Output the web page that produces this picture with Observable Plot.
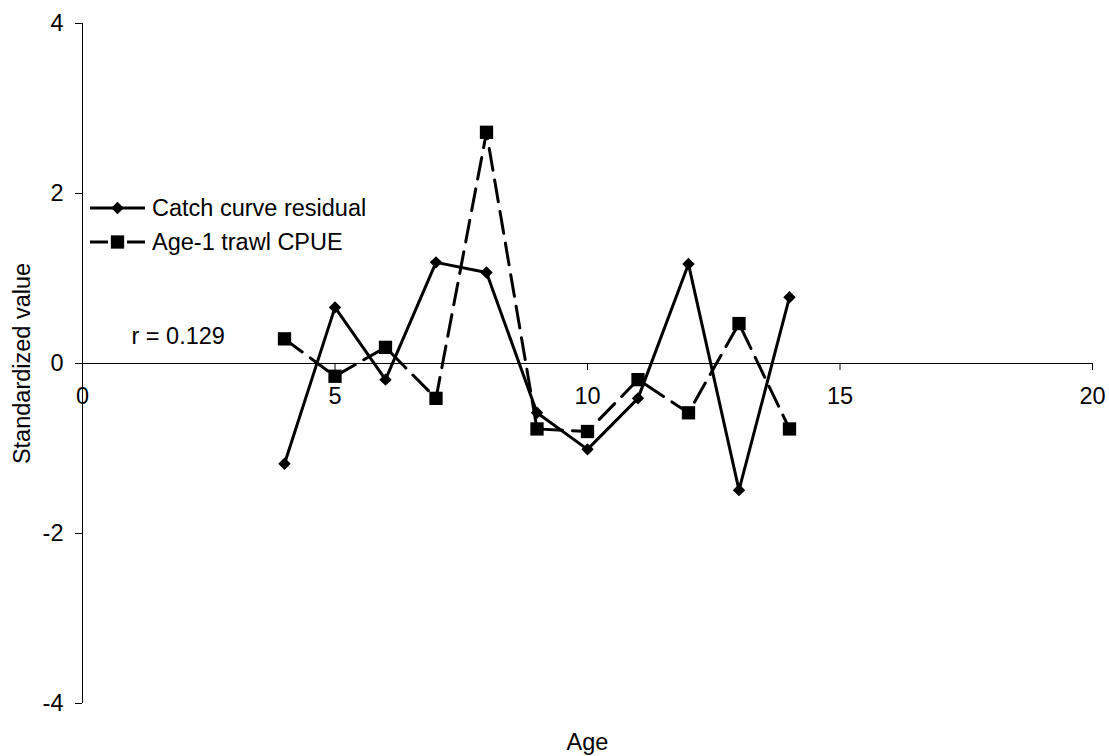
<!DOCTYPE html>
<html><head><meta charset="utf-8">
<script src="https://cdn.jsdelivr.net/npm/d3@7"></script>
<script src="https://cdn.jsdelivr.net/npm/@observablehq/plot@0.6"></script>
<style>
body{margin:0;background:#fff;}
#chart{position:relative;width:1109px;height:756px;font-family:"Liberation Sans",Arial,sans-serif;}
#chart svg.legend{position:absolute;left:0;top:0;pointer-events:none;}
</style></head><body><div id="chart"></div>
<script>
const ages = [4, 5, 6, 7, 8, 9, 10, 11, 12, 13, 14];
const catchResidual = [-1.18, 0.66, -0.19, 1.19, 1.07, -0.58, -1.01, -0.41, 1.17, -1.49, 0.78];
const trawlCPUE = [0.29, -0.15, 0.19, -0.41, 2.72, -0.77, -0.80, -0.19, -0.58, 0.47, -0.77];
const xTicks = [0, 5, 10, 15, 20];
const yTicks = [-4, -2, 0, 2, 4];
const seriesNames = ["Catch curve residual", "Age-1 trawl CPUE"];
const annotations = [{x: 0.97, y: 0.32, text: "r = 0.129"}];
const xLabel = "Age";
const yLabel = "Standardized value";

const FONT = '"Liberation Sans", Arial, sans-serif';
const FS = 23.5;
const catchData = ages.map((a, i) => ({age: a, value: catchResidual[i]}));
const trawlData = ages.map((a, i) => ({age: a, value: trawlCPUE[i]}));

const diamondR = 5.6, squareR = 7.5, dash = "22,10";

const plot = Plot.plot({
  width: 1109, height: 756,
  marginLeft: 82, marginRight: 17, marginTop: 23, marginBottom: 53,
  x: {domain: [0, 20], axis: null},
  y: {domain: [-4, 4], axis: null},
  style: {fontFamily: FONT, fontSize: FS + "px", color: "#000", background: "#fff", overflow: "visible"},
  marks: [
    Plot.ruleY([0], {stroke: "#000", strokeWidth: 1}),
    Plot.ruleX([0], {stroke: "#000", strokeWidth: 1}),
    Plot.ruleX(xTicks, {x: d => d, y1: 0, y2: 0, insetBottom: -7, stroke: "#000"}),
    Plot.ruleY(yTicks, {y: d => d, x1: 0, x2: 0, insetLeft: -7, stroke: "#000"}),
    Plot.text(xTicks, {x: d => d, y: 0, dy: 33, text: d => String(d), fill: "#000"}),
    Plot.text(yTicks, {x: 0, y: d => d, dx: -19, textAnchor: "end", text: d => String(d), fill: "#000"}),
    Plot.line(trawlData, {x: "age", y: "value", stroke: "#000", strokeWidth: 3, strokeDasharray: dash}),
    Plot.line(catchData, {x: "age", y: "value", stroke: "#000", strokeWidth: 3}),
    Plot.dot(trawlData, {x: "age", y: "value", symbol: "square", r: squareR, fill: "#000", stroke: "none"}),
    Plot.dot(catchData, {x: "age", y: "value", symbol: "diamond2", r: diamondR, fill: "#000", stroke: "none"}),
    Plot.text(annotations, {x: "x", y: "y", text: "text", textAnchor: "start", fill: "#000"}),
    Plot.text([xLabel], {frameAnchor: "bottom", lineAnchor: "middle", textAnchor: "middle", dy: 39, text: d => d, fill: "#000"}),
    Plot.text([yLabel], {frameAnchor: "left", textAnchor: "middle", lineAnchor: "middle", dx: -60, rotate: -90, text: d => d, fill: "#000"})
  ]
});

const chart = document.getElementById("chart");
chart.appendChild(plot);

// Legend overlay (inside plot area, as in the original)
const leg = d3.create("svg").attr("class", "legend").attr("width", 1109).attr("height", 756);
const rows = [
  {name: seriesNames[0], symbol: d3.symbolDiamond2, r: diamondR, dasharray: null},
  {name: seriesNames[1], symbol: d3.symbolSquare, r: squareR, dasharray: "18,19"}
];
const lx0 = 90, lx1 = 145, ly0 = 208, lstep = 34;
rows.forEach((row, i) => {
  const y = ly0 + i * lstep;
  const g = leg.append("g");
  g.append("line").attr("x1", lx0).attr("x2", lx1).attr("y1", y).attr("y2", y)
    .attr("stroke", "#000").attr("stroke-width", 3)
    .attr("stroke-dasharray", row.dasharray);
  g.append("path").attr("d", d3.symbol(row.symbol, Math.PI * row.r * row.r)())
    .attr("transform", `translate(${(lx0 + lx1) / 2},${y})`).attr("fill", "#000");
  g.append("text").attr("x", 152).attr("y", y).attr("dy", "0.35em")
    .attr("font-family", FONT).attr("font-size", FS).attr("fill", "#000").text(row.name);
});
chart.appendChild(leg.node());
</script>
</body></html>
